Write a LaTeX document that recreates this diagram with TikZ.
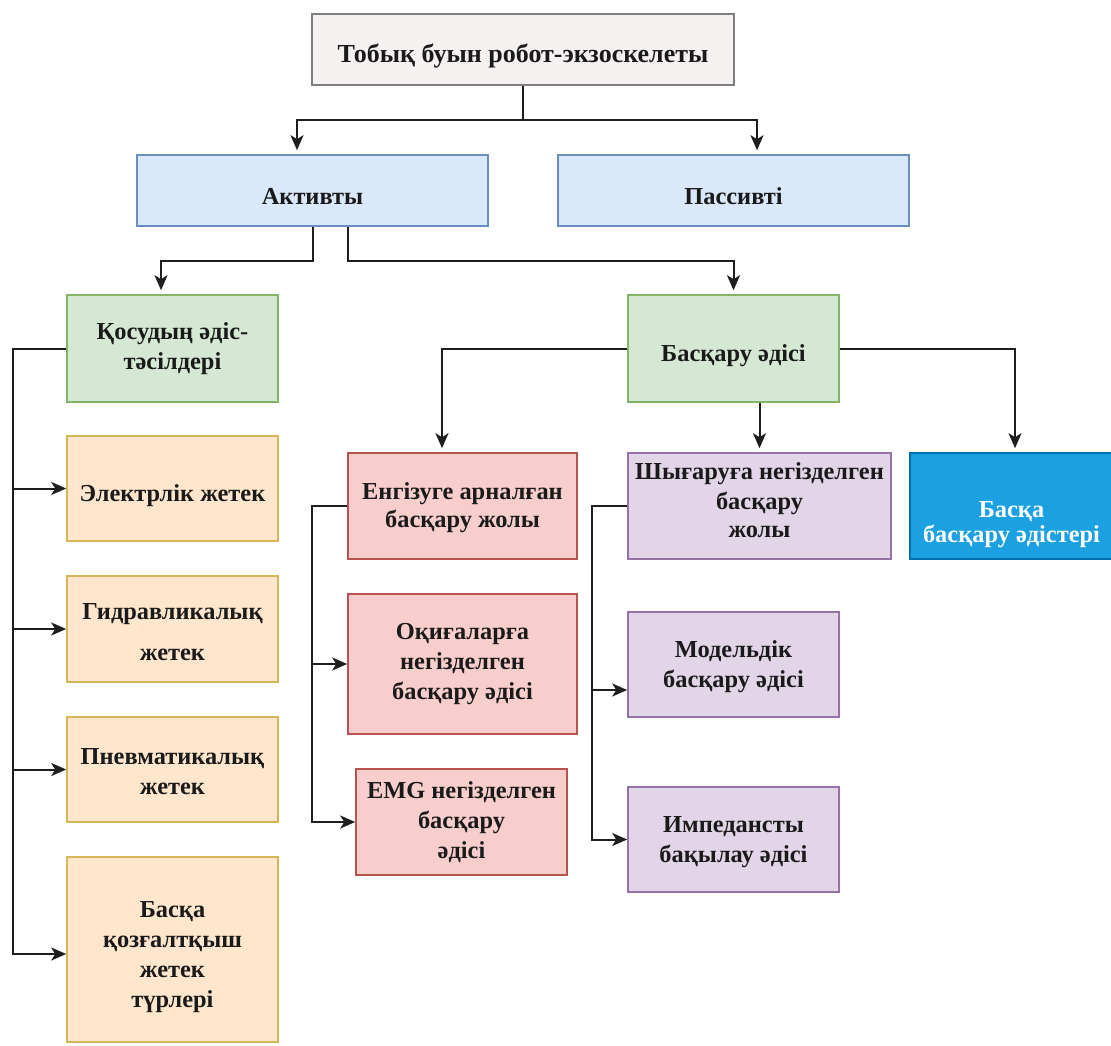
\documentclass[tikz,border=0pt]{standalone}
\usepackage{fontspec}
\setmainfont{Liberation Serif}
\usetikzlibrary{arrows.meta}
\definecolor{topfill}{HTML}{F5F1F1}
\definecolor{topdraw}{HTML}{7F7F7F}
\definecolor{bluefill}{HTML}{DAE8FC}
\definecolor{bluedraw}{HTML}{6C8EBF}
\definecolor{greenfill}{HTML}{D5E8D4}
\definecolor{greendraw}{HTML}{82B366}
\definecolor{orangefill}{HTML}{FFE6CC}
\definecolor{orangedraw}{HTML}{D6B656}
\definecolor{redfill}{HTML}{F8CECC}
\definecolor{reddraw}{HTML}{B85450}
\definecolor{purplefill}{HTML}{E1D5E7}
\definecolor{purpledraw}{HTML}{9673A6}
\definecolor{strongfill}{HTML}{1BA1E2}
\definecolor{strongdraw}{HTML}{006EAF}
\definecolor{linec}{HTML}{1E1E1E}
\definecolor{textc}{HTML}{1A1A1A}
% centred lines; #1 extra height above, #2 extra depth below (moves the text down / up)
\newcommand\tx[3]{\raisebox{0pt}[\dimexpr\height+#1\relax][\dimexpr\depth+#2\relax]{\vbox{\halign{\hfil##\hfil\cr#3\crcr}}}}
\begin{document}
\begin{tikzpicture}[x=1pt,y=-1pt,
  box/.style={draw, line width=1.6pt, rectangle, inner sep=2pt,
    font=\bfseries\fontsize{24.4}{30}\selectfont, text=textc},
  topbox/.style={box, fill=topfill, draw=topdraw},
  bluebox/.style={box, fill=bluefill, draw=bluedraw},
  greenbox/.style={box, fill=greenfill, draw=greendraw},
  orangebox/.style={box, fill=orangefill, draw=orangedraw},
  redbox/.style={box, fill=redfill, draw=reddraw},
  purplebox/.style={box, fill=purplefill, draw=purpledraw},
  strongbox/.style={box, fill=strongfill, draw=strongdraw, text=white},
  conn/.style={line width=2pt, draw=linec},
  arr/.style={conn, -{Stealth[length=15pt,width=13pt,inset=4pt]}},
  varr/.style={arr, shorten >=4pt},
]
\useasboundingbox (0,0) rectangle (1111,1046);
\fill[white] (0,0) rectangle (1111,1046);

% nodes
\node[topbox, minimum width=422pt, minimum height=71pt,
  font=\bfseries\fontsize{26}{32}\selectfont] (top) at (523,49.5) {\tx{14pt}{0pt}{Тобық буын робот-экзоскелеты}};
\node[bluebox, minimum width=351pt, minimum height=71pt] (act) at (312.5,190.5) {\tx{12pt}{0pt}{Активты}};
\node[bluebox, minimum width=351pt, minimum height=71pt] (pas) at (733.5,190.5) {\tx{12pt}{0pt}{Пассивті}};
\node[greenbox, minimum width=211pt, minimum height=107pt] (kos) at (172.5,348.5) {\tx{0pt}{0pt}{Қосудың әдіс-\cr тәсілдері}};
\node[greenbox, minimum width=211pt, minimum height=107pt] (bas) at (733.5,348.5) {\tx{14pt}{0pt}{Басқару әдісі}};

\node[orangebox, minimum width=211pt, minimum height=105pt] (el) at (172.5,488.5) {\tx{14pt}{0pt}{Электрлік жетек}};
\node[orangebox, minimum width=211pt, minimum height=106pt] (gid) at (172.5,629) {\tx{6pt}{0pt}{Гидравликалық\cr\noalign{\vskip11pt}жетек}};
\node[orangebox, minimum width=211pt, minimum height=105pt] (pnev) at (172.5,769.5) {\tx{4pt}{0pt}{Пневматикалық\cr жетек}};
\node[orangebox, minimum width=211pt, minimum height=185pt] (baska) at (172.5,949.5) {\tx{16pt}{0pt}{Басқа\cr қозғалтқыш\cr жетек\cr түрлері}};

\node[redbox, minimum width=229pt, minimum height=106pt] (eng) at (462.5,506) {\tx{4pt}{0pt}{Енгізуге арналған\cr\noalign{\vskip-2pt}басқару жолы}};
\node[redbox, minimum width=229pt, minimum height=140pt] (oki) at (462.5,664) {\tx{0pt}{0pt}{Оқиғаларға\cr негізделген\cr басқару әдісі}};
\node[redbox, minimum width=211pt, minimum height=106pt] (emg) at (461.5,822) {\tx{0pt}{0pt}{EMG негізделген\cr басқару\cr әдісі}};

\node[purplebox, minimum width=263pt, minimum height=106pt] (shy) at (759.5,506) {\tx{0pt}{12pt}{Шығаруға негізделген\cr басқару\cr\noalign{\vskip-2pt}жолы}};
\node[purplebox, minimum width=211pt, minimum height=105pt] (mod) at (733.5,664.5) {\tx{4pt}{0pt}{Модельдік\cr басқару әдісі}};
\node[purplebox, minimum width=211pt, minimum height=105pt] (imp) at (733.5,839.5) {\tx{6pt}{0pt}{Импедансты\cr бақылау әдісі}};

\node[strongbox, minimum width=203pt, minimum height=106pt] (other) at (1011.5,506) {\tx{37pt}{0pt}{Басқа\cr\noalign{\vskip-5pt}басқару әдістері}};

% connectors
\draw[conn] (top.south) -- ++(0,34) coordinate (j1);
\draw[varr] (j1) -| ([xshift=-15.5pt]act.north);
\draw[varr] (j1) -| ([xshift=23.5pt]pas.north);

\draw[varr] (act.south) -- ++(0,34) -| ([xshift=-11.5pt]kos.north);
\draw[varr] ([xshift=35.5pt]act.south) -- ++(0,34) -| (bas.north);

\draw[arr] (kos.west) -- ++(-53,0) |- (el.west);
\draw[arr] (kos.west) -- ++(-53,0) |- (gid.west);
\draw[arr] (kos.west) -- ++(-53,0) |- (pnev.west);
\draw[arr] (kos.west) -- ++(-53,0) |- ([yshift=-4.5pt]baska.west);

\draw[varr] (bas.west) -| ([xshift=-20.5pt]eng.north);
\draw[varr] (bas.south -| shy.north) -- (shy.north);
\draw[varr] (bas.east) -| ([xshift=3.5pt]other.north);

\draw[arr] (eng.west) -- ++(-35,0) |- (oki.west);
\draw[arr] (eng.west) -- ++(-35,0) |- (emg.west);

\draw[arr] (shy.west) -- ++(-35,0) |- ([yshift=-25.5pt]mod.west);
\draw[arr] (shy.west) -- ++(-35,0) |- (imp.west);
\end{tikzpicture}
\end{document}
